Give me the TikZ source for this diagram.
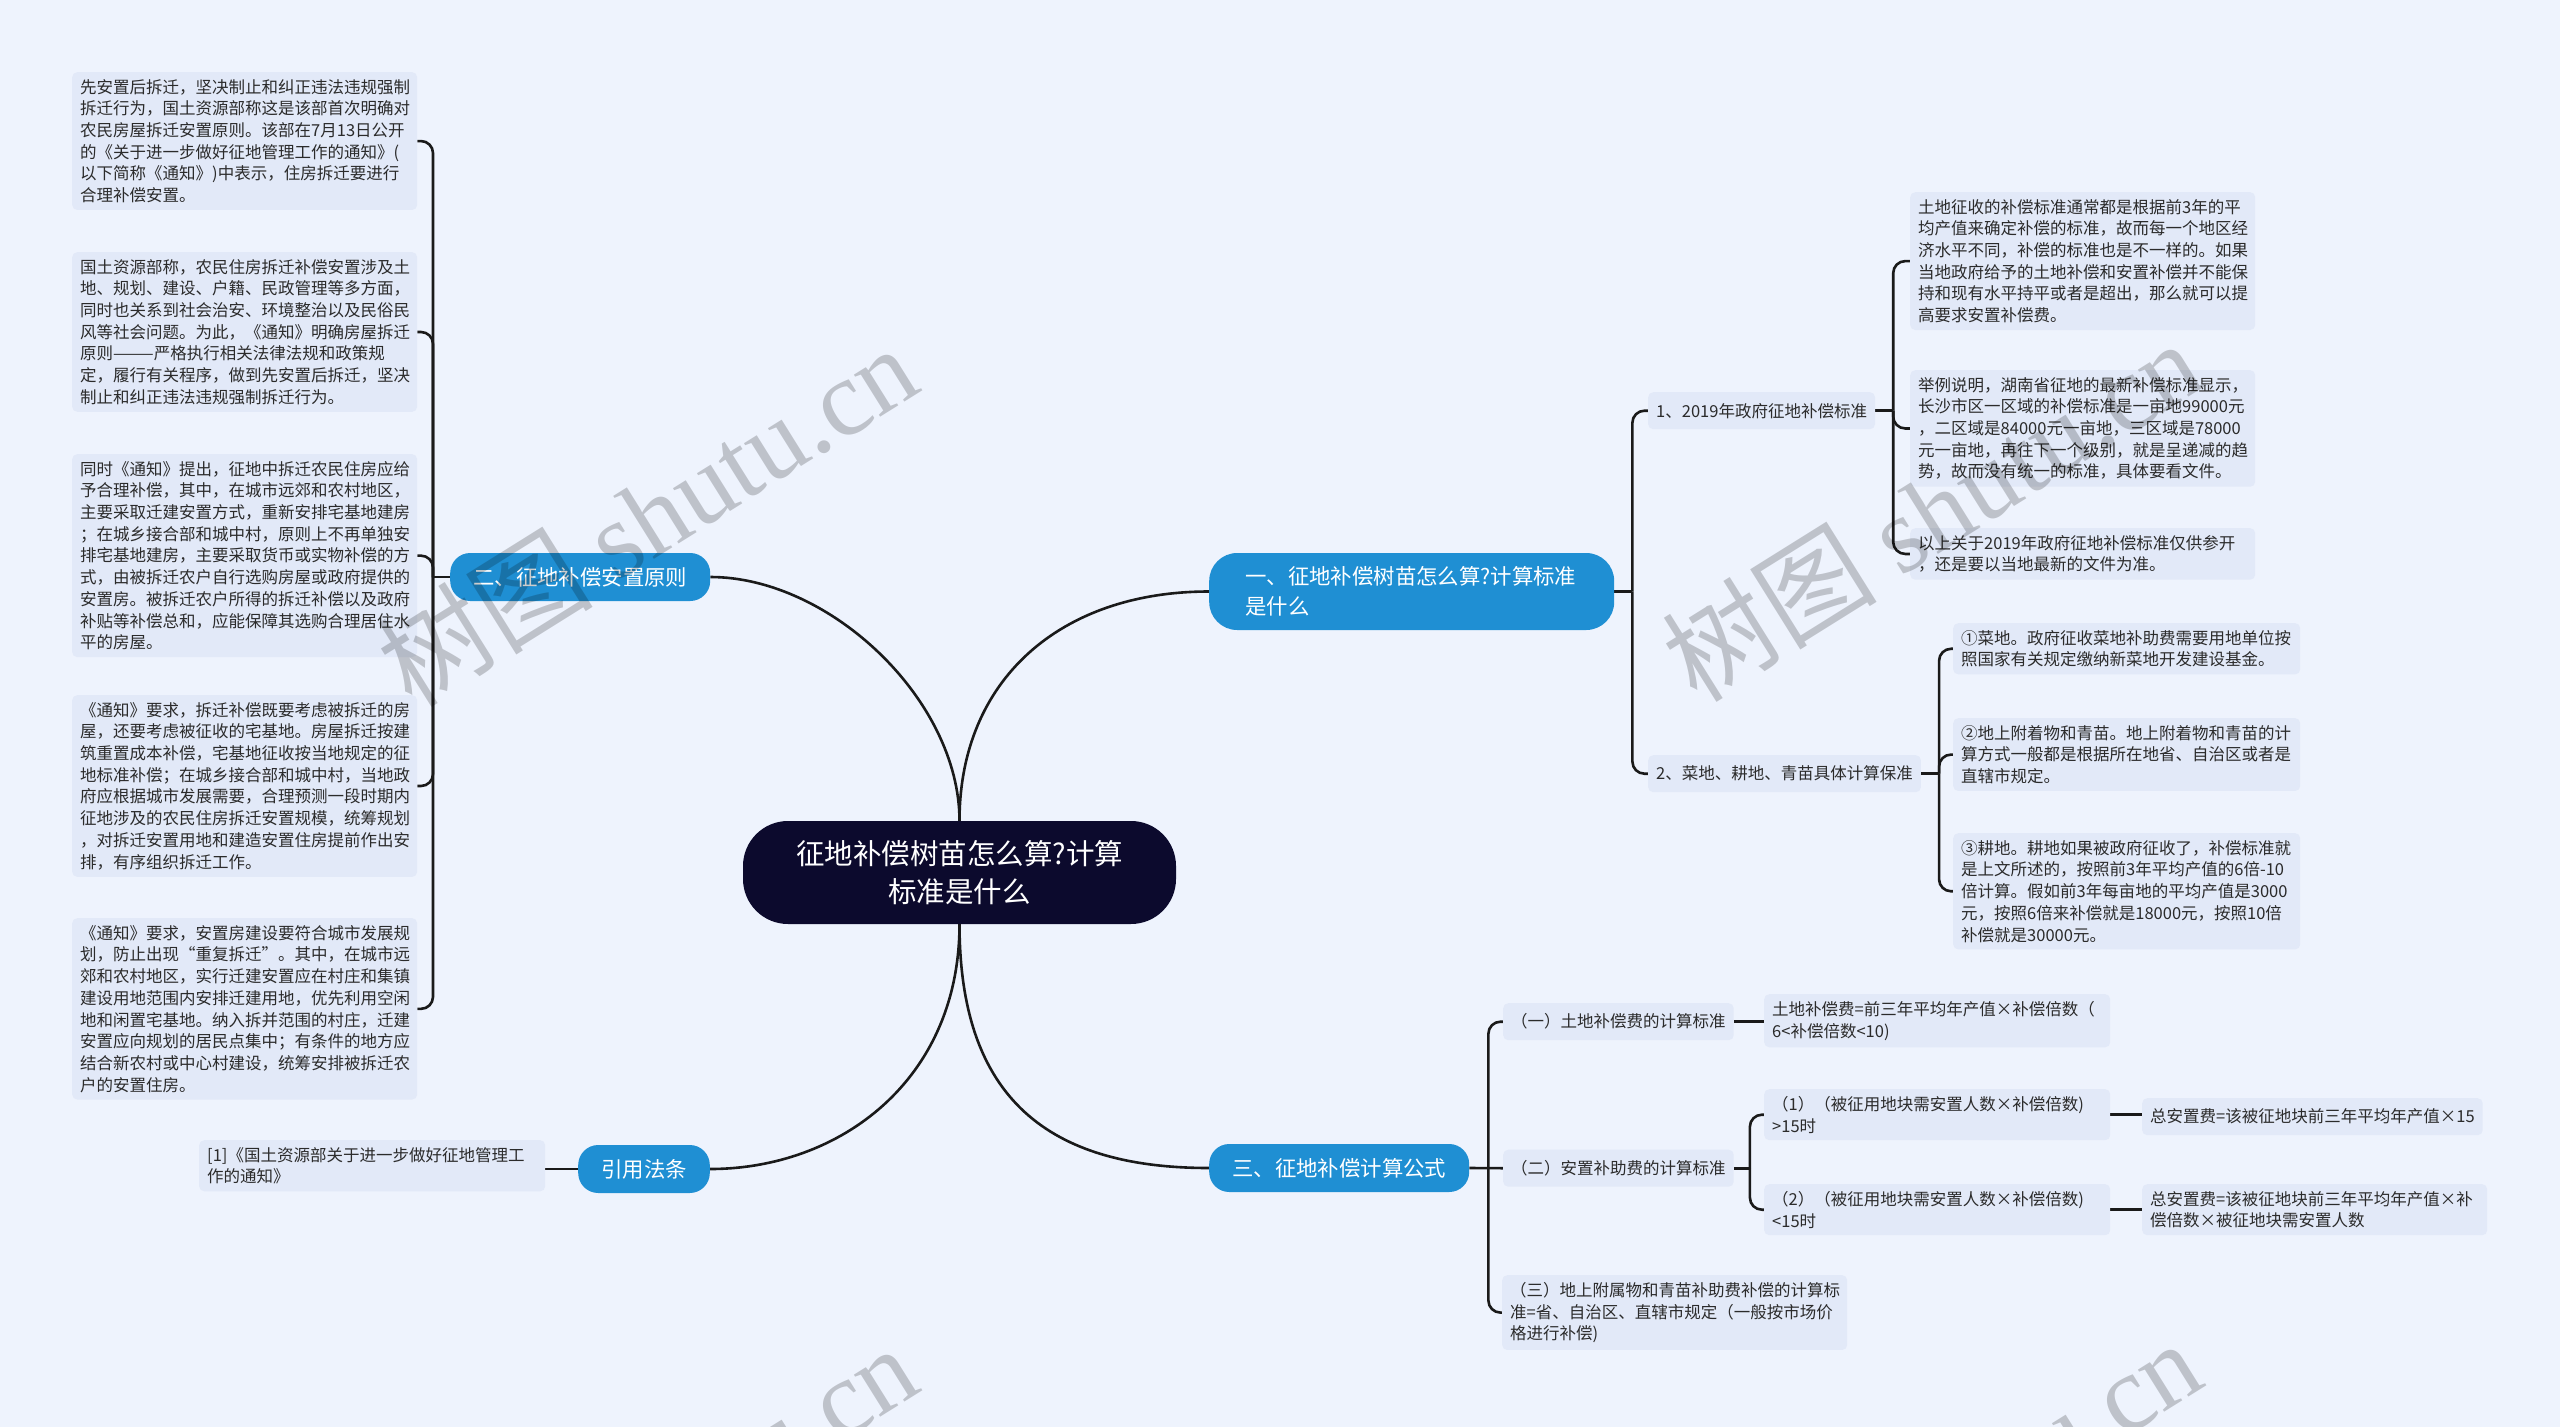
\documentclass[tikz,border=0pt]{standalone}
\usepackage{fontspec}
\setmainfont{Noto Sans CJK SC}
\newfontfamily\wmlatin{Liberation Serif}
\usetikzlibrary{calc}
\definecolor{bgc}{HTML}{EEF3FD}
\definecolor{boxc}{HTML}{E2E9F8}
\definecolor{mainblue}{HTML}{1F8FD3}
\definecolor{navyc}{HTML}{0C0A2D}
\definecolor{txt}{HTML}{2B2B2B}
\definecolor{linec}{HTML}{1A1A1A}
\pgfdeclarelayer{back}
\pgfdeclarelayer{lines}
\pgfsetlayers{back,lines,main}
\begin{document}
\begin{tikzpicture}[x=1pt,y=-1pt,
  tb/.style={fill=boxc, rounded corners=5, inner xsep=8, inner ysep=7, align=left, anchor=north west, text=txt, font=\fontsize{16.5}{21.7}\selectfont},
  tbw/.style={tb, text width=#1},
  tbone/.style={tb, minimum height=37, inner ysep=0},
  mn/.style={fill=mainblue, text=white, rounded corners=20, inner xsep=23, inner ysep=0, minimum height=48, anchor=west, font=\fontsize{21.4}{29.5}\selectfont, align=left},
  centre/.style={fill=navyc, text=white, rounded corners=45, minimum width=433, minimum height=103, align=center, font=\fontsize{28.5}{38}\selectfont},
  conn/.style={draw=linec, line width=2.6},
  brk/.style={conn, rounded corners=12},
  wm/.style={rotate=32, text=black, opacity=0.2, font=\fontsize{108}{108}\selectfont}
]
\begin{pgfonlayer}{back}
\fill[bgc] (0,0) rectangle (2560,1427);
\end{pgfonlayer}
\useasboundingbox (0,0) rectangle (2560,1427);

% centre and main nodes
\node[centre] (c) at (959.5,872.5) {征地补偿树苗怎么算?计算\\标准是什么};
\node[mn, text width=333, inner xsep=36, minimum height=77, rounded corners=28] (n1) at (1209,591.5) {一、征地补偿树苗怎么算?计算标准\\是什么};
\node[mn] (n2) at (450,577) {二、征地补偿安置原则};
\node[mn] (n3) at (1209,1168) {三、征地补偿计算公式};
\node[mn] (n4) at (578,1169) {引用法条};

% left boxes
\node[tbw=329] (L1) at (72,72) {先安置后拆迁，坚决制止和纠正违法违规强制\\拆迁行为，国土资源部称这是该部首次明确对\\农民房屋拆迁安置原则。该部在7月13日公开\\的《关于进一步做好征地管理工作的通知》(\\以下简称《通知》)中表示，住房拆迁要进行\\合理补偿安置。};
\node[tbw=329] (L2) at (72,252) {国土资源部称，农民住房拆迁补偿安置涉及土\\地、规划、建设、户籍、民政管理等多方面，\\同时也关系到社会治安、环境整治以及民俗民\\风等社会问题。为此，《通知》明确房屋拆迁\\原则———严格执行相关法律法规和政策规\\定，履行有关程序，做到先安置后拆迁，坚决\\制止和纠正违法违规强制拆迁行为。};
\node[tbw=329] (L3) at (72,454) {同时《通知》提出，征地中拆迁农民住房应给\\予合理补偿，其中，在城市远郊和农村地区，\\主要采取迁建安置方式，重新安排宅基地建房\\；在城乡接合部和城中村，原则上不再单独安\\排宅基地建房，主要采取货币或实物补偿的方\\式，由被拆迁农户自行选购房屋或政府提供的\\安置房。被拆迁农户所得的拆迁补偿以及政府\\补贴等补偿总和，应能保障其选购合理居住水\\平的房屋。};
\node[tbw=329] (L4) at (72,695) {《通知》要求，拆迁补偿既要考虑被拆迁的房\\屋，还要考虑被征收的宅基地。房屋拆迁按建\\筑重置成本补偿，宅基地征收按当地规定的征\\地标准补偿；在城乡接合部和城中村，当地政\\府应根据城市发展需要，合理预测一段时期内\\征地涉及的农民住房拆迁安置规模，统筹规划\\，对拆迁安置用地和建造安置住房提前作出安\\排，有序组织拆迁工作。};
\node[tbw=329] (L5) at (72,918) {《通知》要求，安置房建设要符合城市发展规\\划，防止出现“重复拆迁”。其中，在城市远\\郊和农村地区，实行迁建安置应在村庄和集镇\\建设用地范围内安排迁建用地，优先利用空闲\\地和闲置宅基地。纳入拆并范围的村庄，迁建\\安置应向规划的居民点集中；有条件的地方应\\结合新农村或中心村建设，统筹安排被拆迁农\\户的安置住房。};
\node[tbw=330] (cit) at (199,1140) {[1]《国土资源部关于进一步做好征地管理工\\作的通知》};

% right upper
\node[tbone] (r1) at (1648,392) {1、2019年政府征地补偿标准};
\node[tbone] (r2) at (1648,755) {2、菜地、耕地、青苗具体计算保准};
\node[tbw=329] (A) at (1910,192) {土地征收的补偿标准通常都是根据前3年的平\\均产值来确定补偿的标准，故而每一个地区经\\济水平不同，补偿的标准也是不一样的。如果\\当地政府给予的土地补偿和安置补偿并不能保\\持和现有水平持平或者是超出，那么就可以提\\高要求安置补偿费。};
\node[tbw=329] (B) at (1910,370) {举例说明，湖南省征地的最新补偿标准显示，\\长沙市区一区域的补偿标准是一亩地99000元\\，二区域是84000元一亩地，三区域是78000\\元一亩地，再往下一个级别，就是呈递减的趋\\势，故而没有统一的标准，具体要看文件。};
\node[tbw=329] (C) at (1910,528) {以上关于2019年政府征地补偿标准仅供参开\\，还是要以当地最新的文件为准。};
\node[tbw=331] (p1) at (1953,623) {①菜地。政府征收菜地补助费需要用地单位按\\照国家有关规定缴纳新菜地开发建设基金。};
\node[tbw=331] (p2) at (1953,718) {②地上附着物和青苗。地上附着物和青苗的计\\算方式一般都是根据所在地省、自治区或者是\\直辖市规定。};
\node[tbw=331] (p3) at (1953,833) {③耕地。耕地如果被政府征收了，补偿标准就\\是上文所述的，按照前3年平均产值的6倍-10\\倍计算。假如前3年每亩地的平均产值是3000\\元，按照6倍来补偿就是18000元，按照10倍\\补偿就是30000元。};

% right lower
\node[tbone] (s1) at (1503,1003) {（一）土地补偿费的计算标准};
\node[tbone] (s2) at (1503,1149.5) {（二）安置补助费的计算标准};
\node[tbw=329] (s3) at (1502,1275) {（三）地上附属物和青苗补助费补偿的计算标\\准=省、自治区、直辖市规定（一般按市场价\\格进行补偿)};
\node[tbw=330] (f1) at (1764,994) {土地补偿费=前三年平均年产值×补偿倍数（\\6<补偿倍数<10)};
\node[tbw=330] (q1) at (1764,1089) {（1）（被征用地块需安置人数×补偿倍数)\\>15时};
\node[tbw=330] (q2) at (1764,1184) {（2）（被征用地块需安置人数×补偿倍数)\\<15时};
\node[tbone] (t1) at (2142,1098) {总安置费=该被征地块前三年平均年产值×15};
\node[tbw=329] (t2) at (2142,1184) {总安置费=该被征地块前三年平均年产值×补\\偿倍数×被征地块需安置人数};

% connectors
\begin{pgfonlayer}{lines}
\draw[conn] (c.north) .. controls (959.5,700) and (830,577) .. (n2.east);
\draw[conn] (c.north) .. controls (959.5,680) and (1060,591.5) .. (n1.west);
\draw[conn] (c.south) .. controls (959.5,1100) and (1050,1168) .. (n3.west);
\draw[conn] (c.south) .. controls (959.5,1080) and (840,1169) .. (n4.east);

\coordinate (j2) at ($(n2.west)+(-17,0)$);
\draw[conn] (n2.west) -- (j2);
\foreach \k in {L1,L2,L3,L4,L5} \draw[brk] (j2) -- (j2 |- \k.east) -- (\k.east);

\coordinate (j1) at ($(n1.east)+(18,0)$);
\draw[conn] (n1.east) -- (j1);
\foreach \k in {r1,r2} \draw[brk] (j1) -- (j1 |- \k.west) -- (\k.west);

\coordinate (ja) at ($(r1.east)+(18,0)$);
\draw[conn] (r1.east) -- (ja);
\foreach \k in {A,B,C} \draw[brk] (ja) -- (ja |- \k.west) -- (\k.west);

\coordinate (jb) at ($(r2.east)+(18,0)$);
\draw[conn] (r2.east) -- (jb);
\foreach \k in {p1,p2,p3} \draw[brk] (jb) -- (jb |- \k.west) -- (\k.west);

\coordinate (j3) at ($(n3.east)+(19,0)$);
\draw[conn] (n3.east) -- (s2.west);
\foreach \k in {s1,s3} \draw[brk] (j3) -- (j3 |- \k.west) -- (\k.west);

\draw[conn] (s1.east) -- (f1.west |- s1.east);

\coordinate (j4) at ($(s2.east)+(16,0)$);
\draw[conn] (s2.east) -- (j4);
\foreach \k in {q1,q2} \draw[brk] (j4) -- (j4 |- \k.west) -- (\k.west);

\draw[conn] (q1.east) -- (t1.west |- q1.east);
\draw[conn] (q2.east) -- (t2.west |- q2.east);
\draw[conn] (n4.west) -- (cit.east |- n4.west);
\end{pgfonlayer}

% watermarks
\begin{scope}
\clip (0,0) rectangle (2560,1427);
\node[wm] (w1) at (647,515) {树图 {\wmlatin shutu.cn}};
\node[wm] (w2) at (1931,510) {树图 {\wmlatin shutu.cn}};
\node[wm] (w3) at (647,1515) {树图 {\wmlatin shutu.cn}};
\node[wm] (w4) at (1931,1510) {树图 {\wmlatin shutu.cn}};
\end{scope}
\end{tikzpicture}
\end{document}
